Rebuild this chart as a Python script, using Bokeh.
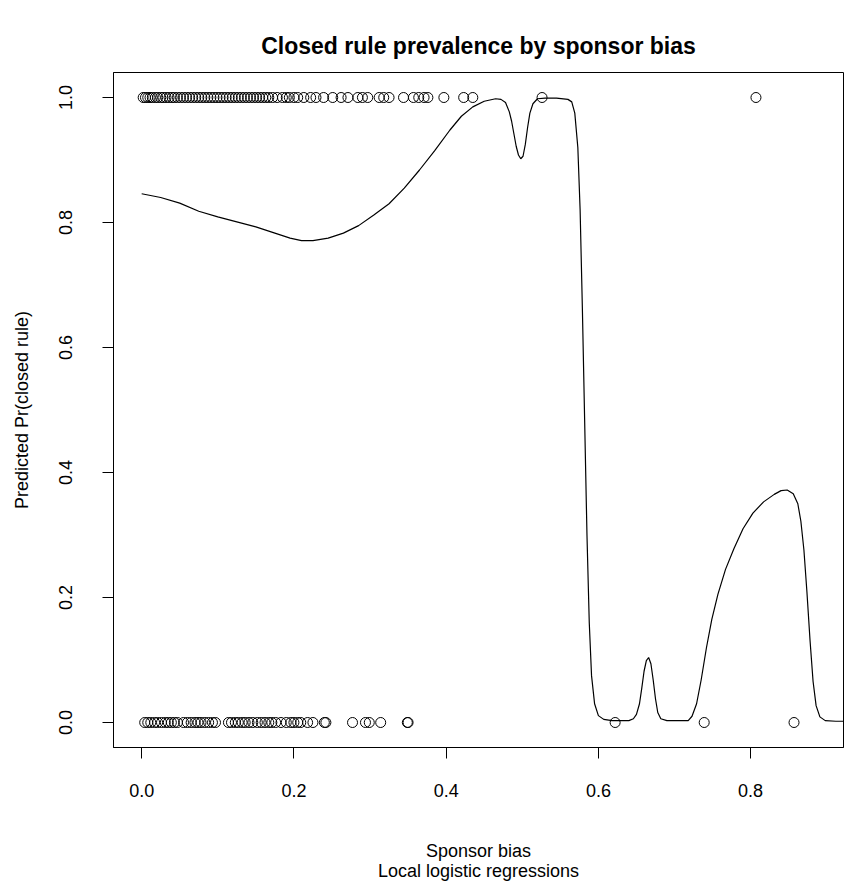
from bokeh.plotting import figure
from bokeh.models import Title, NumeralTickFormatter, Range1d
from bokeh.embed import file_html
from bokeh.resources import INLINE

# --- data -------------------------------------------------------------
# observations with a closed rule (y = 1)
closed_x = [0.002, 0.005, 0.008, 0.011, 0.014, 0.018, 0.021, 0.025, 0.028, 0.032,
            0.036, 0.040, 0.043, 0.047, 0.051, 0.055, 0.059, 0.063, 0.067, 0.071,
            0.075, 0.079, 0.083, 0.087, 0.091, 0.095, 0.099, 0.103, 0.107, 0.111,
            0.115, 0.119, 0.123, 0.127, 0.131, 0.135, 0.139, 0.143, 0.147, 0.151,
            0.155, 0.159, 0.163, 0.167, 0.172, 0.178, 0.185, 0.190, 0.194, 0.200,
            0.205, 0.213, 0.222, 0.229, 0.239, 0.251, 0.262, 0.271, 0.284, 0.290,
            0.297, 0.312, 0.318, 0.325, 0.344, 0.357, 0.364, 0.371, 0.376, 0.397,
            0.423, 0.435, 0.526, 0.807]
# observations with an open rule (y = 0)
open_x = [0.004, 0.008, 0.012, 0.017, 0.021, 0.026, 0.031, 0.035, 0.039, 0.043,
          0.047, 0.055, 0.060, 0.065, 0.070, 0.074, 0.078, 0.083, 0.088, 0.093,
          0.097, 0.114, 0.118, 0.123, 0.127, 0.132, 0.136, 0.141, 0.146, 0.152,
          0.157, 0.162, 0.167, 0.171, 0.176, 0.183, 0.190, 0.196, 0.200, 0.205,
          0.209, 0.218, 0.225, 0.240, 0.242, 0.277, 0.294, 0.299, 0.314, 0.349,
          0.350, 0.622, 0.739, 0.857]

# local logistic regression fit
fit_x = [0.000, 0.025, 0.050, 0.075, 0.100, 0.125, 0.150, 0.175, 0.195, 0.210,
         0.225, 0.245, 0.265, 0.285, 0.305, 0.325, 0.345, 0.365, 0.385, 0.405,
         0.420, 0.435, 0.450, 0.465, 0.472, 0.478, 0.483, 0.486, 0.489, 0.492,
         0.495, 0.498, 0.501, 0.504, 0.507, 0.510, 0.514, 0.520, 0.530, 0.545,
         0.560, 0.565, 0.569, 0.573, 0.576, 0.579, 0.582, 0.585, 0.588, 0.591,
         0.595, 0.600, 0.607, 0.618, 0.640, 0.646, 0.650, 0.654, 0.657, 0.660,
         0.663, 0.666, 0.669, 0.672, 0.675, 0.678, 0.682, 0.690, 0.718, 0.723,
         0.729, 0.735, 0.742, 0.749, 0.757, 0.767, 0.778, 0.790, 0.803, 0.817,
         0.831, 0.840, 0.848, 0.856, 0.862, 0.866, 0.870, 0.874, 0.878, 0.882,
         0.886, 0.891, 0.898, 0.912, 0.950]
fit_y = [0.846, 0.840, 0.831, 0.818, 0.809, 0.801, 0.793, 0.783, 0.775, 0.771,
         0.771, 0.775, 0.783, 0.795, 0.812, 0.830, 0.855, 0.884, 0.915, 0.948,
         0.970, 0.985, 0.994, 0.998, 0.997, 0.992, 0.977, 0.962, 0.942, 0.922,
         0.908, 0.902, 0.906, 0.925, 0.952, 0.975, 0.990, 0.998, 0.999, 0.999,
         0.997, 0.993, 0.975, 0.920, 0.820, 0.660, 0.480, 0.300, 0.160, 0.075,
         0.030, 0.011, 0.005, 0.003, 0.003, 0.006, 0.013, 0.030, 0.055, 0.082,
         0.099, 0.104, 0.094, 0.068, 0.038, 0.016, 0.006, 0.003, 0.003, 0.010,
         0.030, 0.068, 0.120, 0.165, 0.205, 0.245, 0.278, 0.310, 0.335, 0.353,
         0.365, 0.371, 0.372, 0.366, 0.350, 0.322, 0.276, 0.208, 0.132, 0.066,
         0.027, 0.009, 0.003, 0.002, 0.002]

x_ticks = [0.0, 0.2, 0.4, 0.6, 0.8]
y_ticks = [0.0, 0.2, 0.4, 0.6, 0.8, 1.0]

FONT = "Liberation Sans"

p = figure(width=857, height=882,
           x_range=Range1d(-0.037, 0.922), y_range=Range1d(-0.04, 1.04),
           output_backend="svg", toolbar_location=None,
           min_border_left=113, min_border_right=14,
           min_border_top=72, min_border_bottom=135,
           title="Closed rule prevalence by sponsor bias")

p.background_fill_color = "white"
p.border_fill_color = "white"
p.outline_line_color = "black"
p.outline_line_width = 1
p.grid.visible = False

p.title.align = "center"
p.title.text_font = FONT
p.title.text_font_size = "23px"
p.title.text_font_style = "bold"
p.title.text_color = "black"
p.title.standoff = 28

for ax, ticks in ((p.xaxis, x_ticks), (p.yaxis, y_ticks)):
    ax.ticker = ticks
    ax.formatter = NumeralTickFormatter(format="0.0")
    ax.major_tick_out = 11
    ax.major_tick_in = 0
    ax.minor_tick_line_color = None
    ax.axis_line_color = "black"
    ax.major_tick_line_color = "black"
    ax.major_label_text_font = FONT
    ax.major_label_text_font_size = "18px"
    ax.major_label_text_color = "black"
    ax.axis_label_text_font = FONT
    ax.axis_label_text_font_size = "18px"
    ax.axis_label_text_font_style = "normal"
    ax.axis_label_text_color = "black"

p.xaxis.major_label_standoff = 25
p.xaxis.axis_label = "Sponsor bias"
p.xaxis.axis_label_standoff = 41

p.yaxis.major_label_orientation = "vertical"
p.yaxis.major_label_standoff = 31
p.yaxis.axis_label = "Predicted Pr(closed rule)"
p.yaxis.axis_label_standoff = 24

p.add_layout(Title(text="Local logistic regressions", align="center",
                   text_font=FONT, text_font_size="18px",
                   text_font_style="normal", text_color="black", standoff=-10),
             "below")

p.line(fit_x, fit_y, line_color="black", line_width=1.2)
p.scatter(closed_x, [1.0] * len(closed_x), marker="circle", size=10,
          fill_color=None, line_color="black", line_width=1)
p.scatter(open_x, [0.0] * len(open_x), marker="circle", size=10,
          fill_color=None, line_color="black", line_width=1)

open("out.html", "w").write(file_html(p, INLINE))
